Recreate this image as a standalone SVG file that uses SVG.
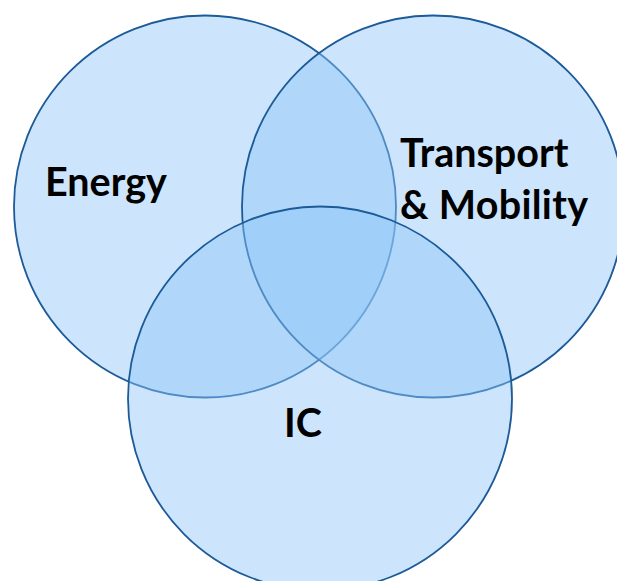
<svg xmlns="http://www.w3.org/2000/svg" width="617" height="581" viewBox="0 0 617 581">
  <style>
    .set { fill: #8ec5f8; fill-opacity: 0.45; stroke: #1c5a98; stroke-width: 1.8; }
    .label { font-family: Lato, "Open Sans", "Liberation Sans", sans-serif; font-weight: bold; font-size: 39.5px; fill: #000; }
  </style>
  <rect width="617" height="581" fill="#ffffff"/>
  <g id="energy">
    <circle class="set" cx="205" cy="206.5" r="191"/>
  </g>
  <g id="transport">
    <circle class="set" cx="433" cy="206.5" r="191"/>
  </g>
  <g id="ic">
    <circle class="set" cx="320" cy="398.5" r="192"/>
  </g>
  <g id="labels">
    <text class="label" x="45" y="196">Energy</text>
    <text class="label" x="400" y="167">Transport</text>
    <text class="label" x="400" y="219" textLength="188" lengthAdjust="spacing">&amp; Mobility</text>
    <text class="label" x="284" y="437">IC</text>
  </g>
</svg>
